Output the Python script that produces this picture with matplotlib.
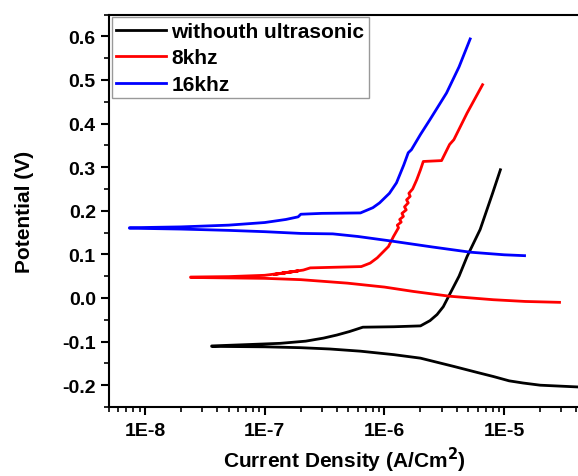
import matplotlib.pyplot as plt

plt.rcParams['font.family'] = ['Liberation Sans', 'DejaVu Sans']
plt.rcParams['font.weight'] = 'bold'

# without ultrasonic: cathodic branch then anodic branch (current, potential)
black_cat_i = [3.6e-8, 1e-7, 2e-7, 3.5e-7, 6.3e-7, 1.2e-6, 2e-6, 3.8e-6, 6e-6, 8.1e-6, 1.1e-5, 1.44e-5, 2e-5, 4.1e-5]
black_cat_e = [-0.111, -0.112, -0.114, -0.117, -0.122, -0.130, -0.138, -0.157, -0.171, -0.180, -0.190, -0.195, -0.200, -0.204]
black_an_i = [3.6e-8, 7e-8, 1.35e-7, 2.2e-7, 3.1e-7, 4e-7, 5.1e-7, 6.6e-7, 1.2e-6, 2e-6, 2.4e-6, 2.75e-6, 3.1e-6, 3.5e-6, 4.2e-6, 4.9e-6, 6.3e-6, 8e-6, 9.3e-6]
black_an_e = [-0.110, -0.107, -0.104, -0.099, -0.092, -0.085, -0.077, -0.067, -0.066, -0.064, -0.052, -0.038, -0.020, 0.008, 0.050, 0.095, 0.157, 0.240, 0.294]

# 8khz
red_cat_i = [2.4e-8, 5e-8, 1e-7, 2e-7, 4.9e-7, 1e-6, 1.74e-6, 3.5e-6, 8.1e-6, 1.5e-5, 2.9e-5]
red_cat_e = [0.047, 0.046, 0.045, 0.042, 0.034, 0.025, 0.015, 0.004, -0.004, -0.008, -0.010]
red_an_i = [2.4e-8, 5e-8, 1e-7, 1.5e-7, 1.2e-7, 1.9e-7, 1.4e-7, 2.1e-7, 2.4e-7, 6.4e-7, 7.6e-7, 8.7e-7,
            1.08e-6, 1.19e-6, 1.31e-6, 1.28e-6, 1.38e-6, 1.34e-6, 1.44e-6, 1.40e-6, 1.52e-6, 1.47e-6,
            1.58e-6, 1.53e-6, 1.64e-6, 1.60e-6, 1.72e-6, 1.86e-6, 2.0e-6, 2.11e-6, 3.0e-6, 3.5e-6,
            3.8e-6, 4.9e-6, 6.6e-6]
red_an_e = [0.048, 0.049, 0.052, 0.058, 0.054, 0.062, 0.057, 0.064, 0.069, 0.072, 0.080, 0.092,
            0.118, 0.141, 0.161, 0.167, 0.174, 0.180, 0.187, 0.194, 0.202, 0.209,
            0.218, 0.225, 0.233, 0.240, 0.250, 0.271, 0.294, 0.313, 0.315, 0.352,
            0.363, 0.424, 0.489]

# 16khz
blue_cat_i = [7.4e-9, 2e-8, 5e-8, 1e-7, 2e-7, 3.7e-7, 6e-7, 1.18e-6, 2.5e-6, 5.2e-6, 1e-5, 1.48e-5]
blue_cat_e = [0.160, 0.158, 0.155, 0.152, 0.148, 0.147, 0.141, 0.130, 0.117, 0.105, 0.099, 0.097]
blue_an_i = [7.4e-9, 2e-8, 5e-8, 1e-7, 1.5e-7, 1.9e-7, 2e-7, 3e-7, 6.3e-7, 8e-7, 9.1e-7, 1.1e-6,
             1.26e-6, 1.45e-6, 1.58e-6, 1.68e-6, 2e-6, 2.4e-6, 3.3e-6, 4.2e-6, 5.2e-6]
blue_an_e = [0.161, 0.163, 0.167, 0.173, 0.180, 0.186, 0.192, 0.194, 0.195, 0.207, 0.218, 0.240,
             0.264, 0.305, 0.333, 0.340, 0.375, 0.409, 0.470, 0.530, 0.594]

series = [
    ("withouth ultrasonic", "black", black_cat_i, black_cat_e, black_an_i, black_an_e),
    ("8khz", "red", red_cat_i, red_cat_e, red_an_i, red_an_e),
    ("16khz", "blue", blue_cat_i, blue_cat_e, blue_an_i, blue_an_e),
]

fig = plt.figure(figsize=(5.78, 4.77), dpi=100)
ax = fig.add_axes([109 / 578, 69 / 477, 471 / 578, 392.5 / 477])

for label, color, ci, ce, ai, ae in series:
    # join the two branches into one continuous trace
    xs = ci[::-1] + ai
    ys = ce[::-1] + ae
    ax.plot(xs, ys, color=color, lw=2, label=label)

ax.set_xscale("log")
ax.set_xlim(5e-9, 4.3e-5)
ax.set_ylim(-0.25, 0.65)
ax.set_xticks([1e-8, 1e-7, 1e-6, 1e-5])
ax.set_xticklabels(["1E-8", "1E-7", "1E-6", "1E-5"])
yt = [-0.2, -0.1, 0.0, 0.1, 0.2, 0.3, 0.4, 0.5, 0.6]
ax.set_yticks(yt)
ax.set_yticklabels([f"{v:.1f}" for v in yt])
ax.set_yticks([-0.25, -0.15, -0.05, 0.05, 0.15, 0.25, 0.35, 0.45, 0.55, 0.65], minor=True)

ax.tick_params(which="major", direction="out", length=6, width=1.5, labelsize=14)
ax.tick_params(axis="x", which="major", pad=5)
ax.tick_params(which="minor", direction="out", length=3.5, width=1.2)
for sp in ax.spines.values():
    sp.set_linewidth(1.5)

ax.set_xlabel("Current Density (A/Cm$^\\mathbf{2}$)", fontsize=15, fontweight="bold", labelpad=4)
ax.set_ylabel("Potential (V)", fontsize=15, fontweight="bold", labelpad=20)

leg = ax.legend(loc="upper left", fontsize=15, fancybox=False, borderaxespad=0.13,
                handlelength=2.4, labelspacing=0.36, handletextpad=0.25, borderpad=0.22)
leg.get_frame().set_edgecolor("gray")
leg.get_frame().set_linewidth(1)

fig.savefig("out.png", dpi=100)
